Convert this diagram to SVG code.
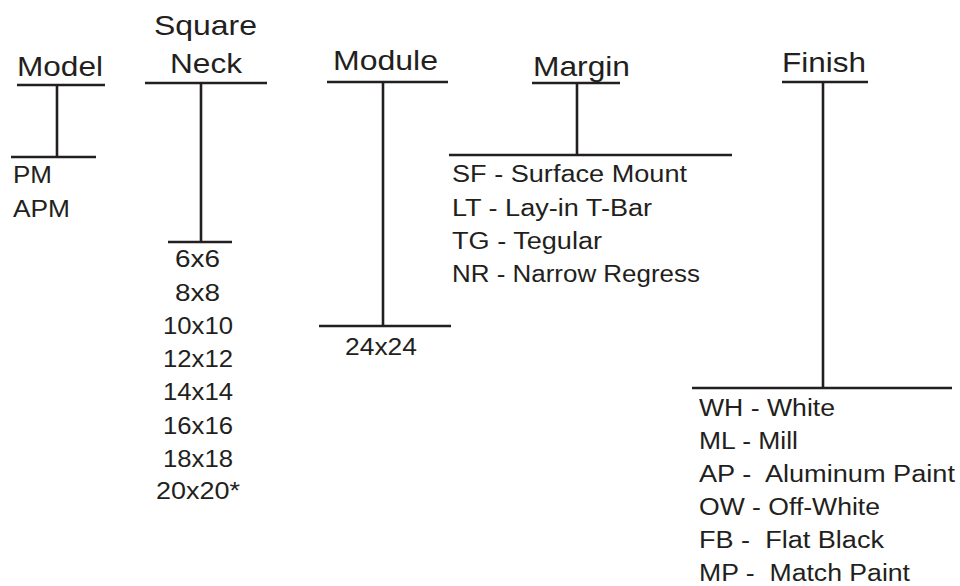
<svg xmlns="http://www.w3.org/2000/svg" width="960" height="586" viewBox="0 0 960 586">
<style>
text{font-family:"Liberation Sans",Arial,sans-serif;fill:#231f20;white-space:pre}
.h{font-size:28px}
.s{font-size:23px}
.m{text-anchor:middle}
.ln{stroke:#231f20;stroke-width:2.6;fill:none}
</style>
<rect width="960" height="586" fill="#fff"/>
<g id="connectors">
<path class="ln" d="M17 85H105M57 85V157M11 157H96"/>
<path class="ln" d="M145 83H267M201 83V242M168 242H232"/>
<path class="ln" d="M327 82H448M383 82V326M319 326H451"/>
<path class="ln" d="M532 83H620M577 83V155M449 155H732"/>
<path class="ln" d="M782 82H868M823 82V388M692 388H952"/>
</g>
<g id="model">
<text class="h" x="17" y="76" textLength="86" lengthAdjust="spacingAndGlyphs">Model</text>
<text class="s" x="13" y="183" textLength="39" lengthAdjust="spacingAndGlyphs">PM</text>
<text class="s" x="13" y="217" textLength="57" lengthAdjust="spacingAndGlyphs">APM</text>
</g>
<g id="square-neck">
<text class="h" x="154" y="35" textLength="103" lengthAdjust="spacingAndGlyphs">Square</text>
<text class="h" x="170" y="73" textLength="72" lengthAdjust="spacingAndGlyphs">Neck</text>
<text class="s" x="175" y="267" textLength="45" lengthAdjust="spacingAndGlyphs">6x6</text>
<text class="s" x="175" y="301" textLength="45" lengthAdjust="spacingAndGlyphs">8x8</text>
<text class="s" x="163" y="334" textLength="70" lengthAdjust="spacingAndGlyphs">10x10</text>
<text class="s" x="163" y="367" textLength="70" lengthAdjust="spacingAndGlyphs">12x12</text>
<text class="s" x="163" y="400" textLength="70" lengthAdjust="spacingAndGlyphs">14x14</text>
<text class="s" x="163" y="434" textLength="70" lengthAdjust="spacingAndGlyphs">16x16</text>
<text class="s" x="163" y="467" textLength="70" lengthAdjust="spacingAndGlyphs">18x18</text>
<text class="s" x="156" y="499" textLength="84" lengthAdjust="spacingAndGlyphs">20x20*</text>
</g>
<g id="module">
<text class="h" x="333" y="70" textLength="105" lengthAdjust="spacingAndGlyphs">Module</text>
<text class="s" x="345" y="355" textLength="72" lengthAdjust="spacingAndGlyphs">24x24</text>
</g>
<g id="margin">
<text class="h" x="533" y="76" textLength="97" lengthAdjust="spacingAndGlyphs">Margin</text>
<text class="s" x="452" y="182" textLength="235" lengthAdjust="spacingAndGlyphs">SF - Surface Mount</text>
<text class="s" x="452" y="216" textLength="200" lengthAdjust="spacingAndGlyphs">LT - Lay-in T-Bar</text>
<text class="s" x="452" y="249" textLength="150" lengthAdjust="spacingAndGlyphs">TG - Tegular</text>
<text class="s" x="452" y="282" textLength="248" lengthAdjust="spacingAndGlyphs">NR - Narrow Regress</text>
</g>
<g id="finish">
<text class="h" x="782" y="72" textLength="84" lengthAdjust="spacingAndGlyphs">Finish</text>
<text class="s" x="699" y="416" textLength="136" lengthAdjust="spacingAndGlyphs">WH - White</text>
<text class="s" x="699" y="449" textLength="99" lengthAdjust="spacingAndGlyphs">ML - Mill</text>
<text class="s" x="699" y="482" textLength="256" lengthAdjust="spacingAndGlyphs">AP -  Aluminum Paint</text>
<text class="s" x="699" y="515" textLength="181" lengthAdjust="spacingAndGlyphs">OW - Off-White</text>
<text class="s" x="699" y="548" textLength="185" lengthAdjust="spacingAndGlyphs">FB -  Flat Black</text>
<text class="s" x="699" y="581" textLength="211" lengthAdjust="spacingAndGlyphs">MP -  Match Paint</text>
</g>
</svg>
